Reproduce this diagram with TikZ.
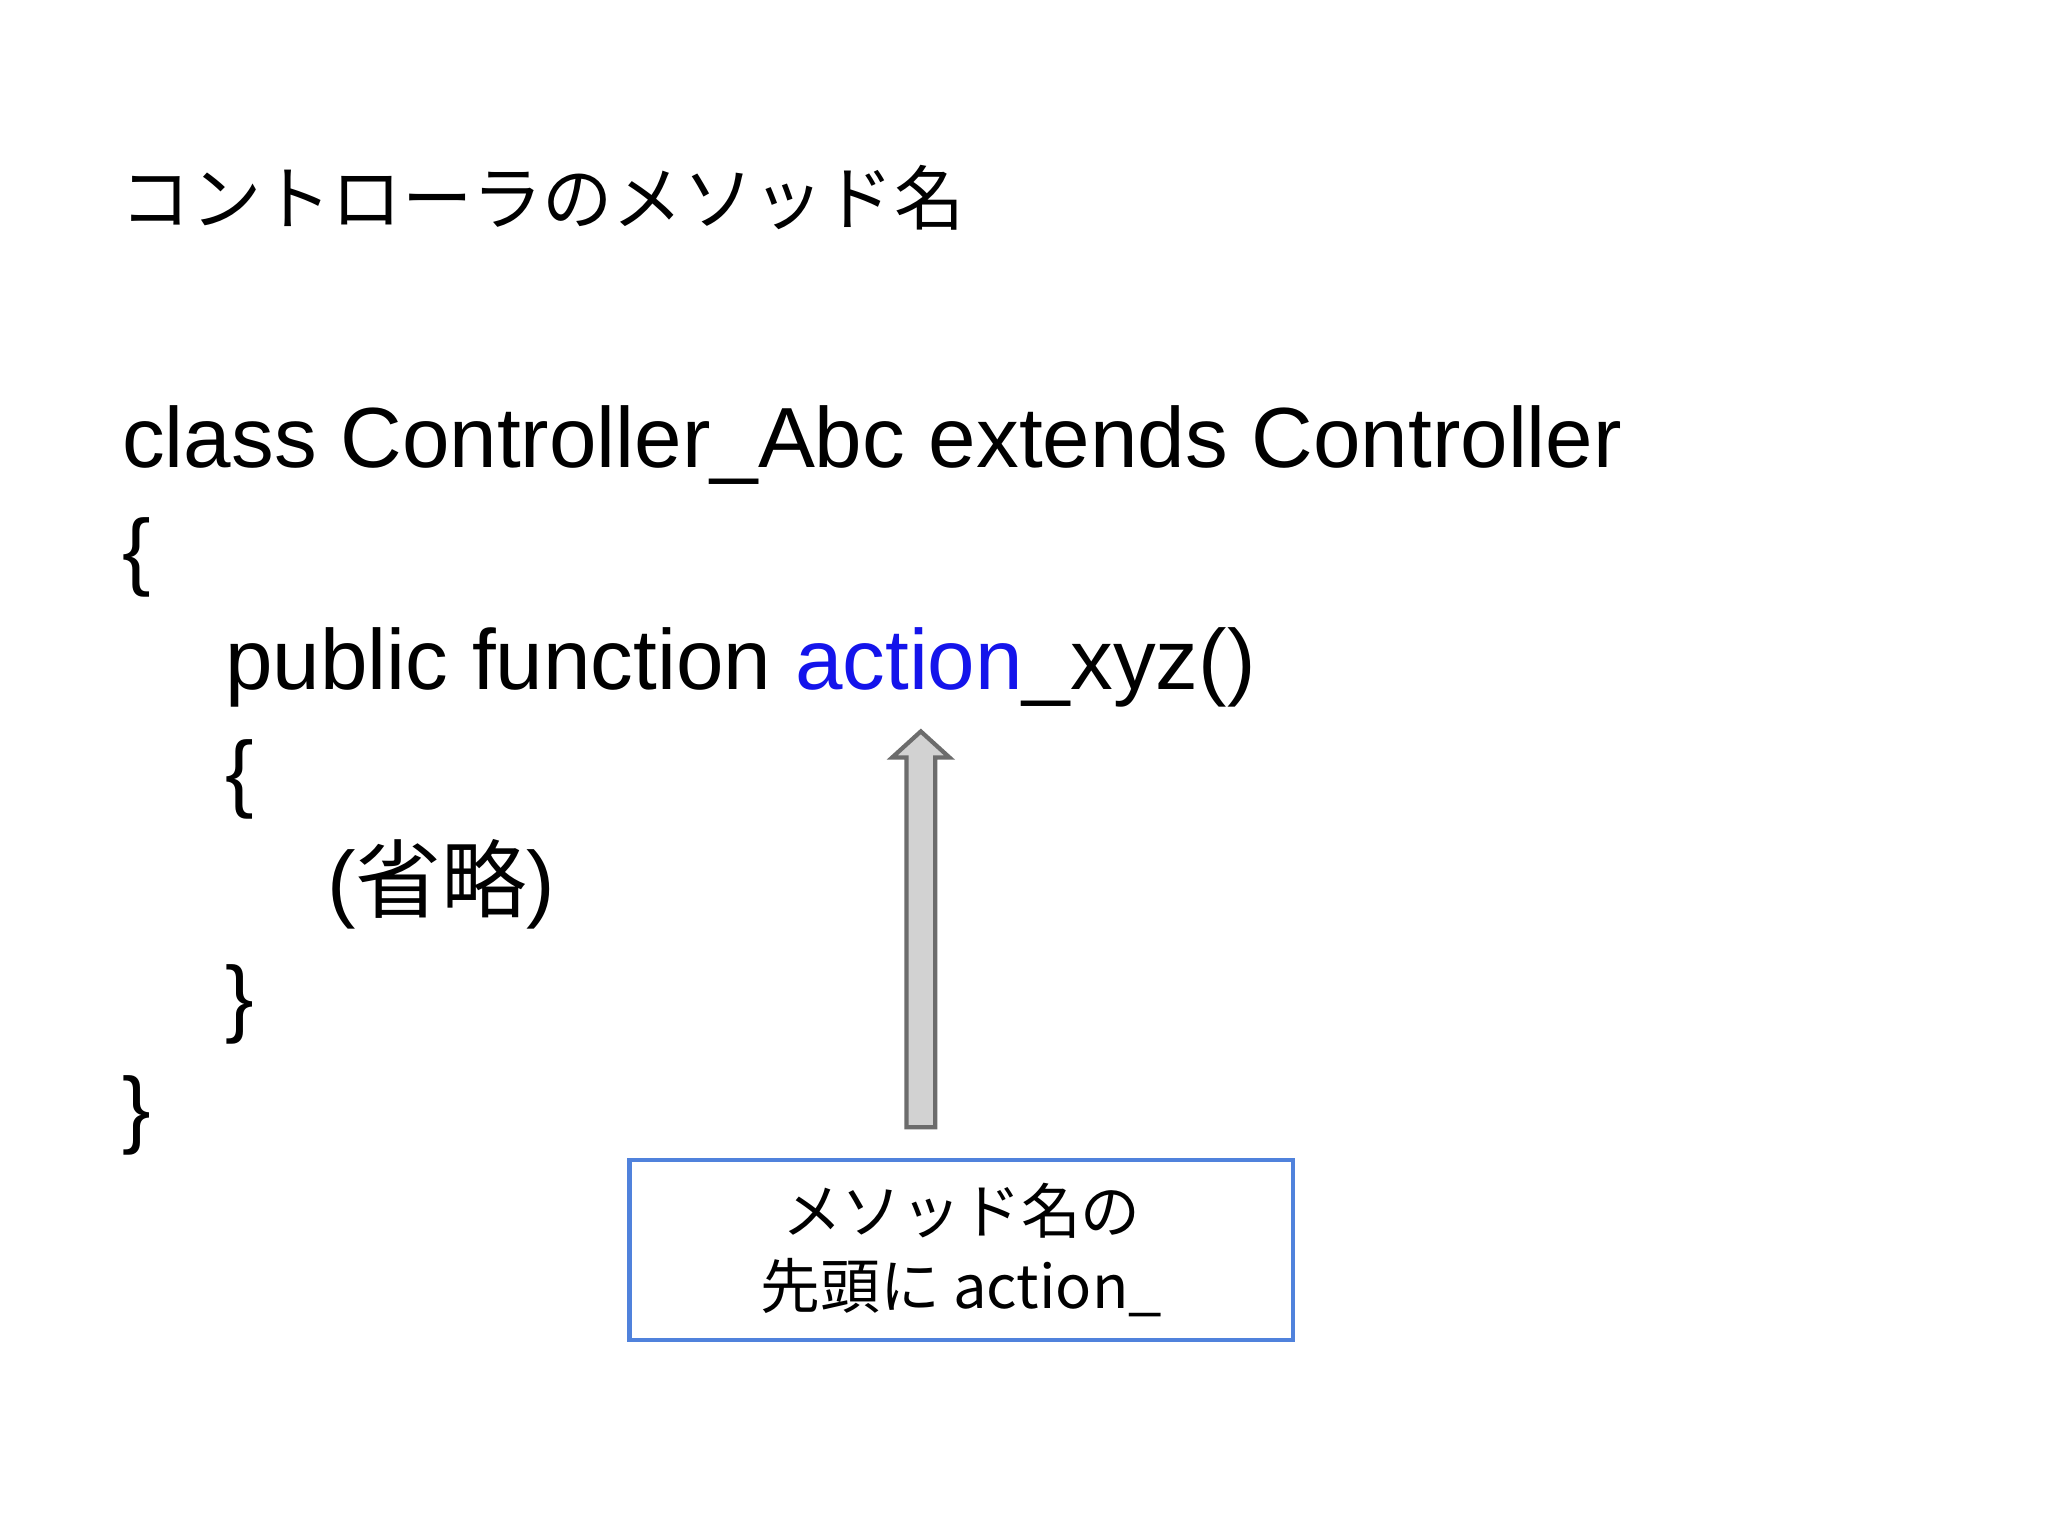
\documentclass[tikz,border=0pt]{standalone}
\usepackage{fontspec}
\setmainfont{Liberation Sans}
\newfontfamily\cjk{Noto Sans CJK JP}
\definecolor{actblue}{RGB}{20,20,235}
\definecolor{boxblue}{RGB}{80,130,220}
\begin{document}
\begin{tikzpicture}[x=0.01306cm,y=-0.01306cm,
  code/.style={anchor=base west,inner sep=0,font=\fontsize{24.3}{30}\selectfont},
  note/.style={align=center,font=\cjk\fontsize{17}{21.5}\selectfont}]
\useasboundingbox[fill=white] (0,0) rectangle (1568,1176);
\node[anchor=base west,inner sep=0,font=\cjk\fontsize{20}{24}\selectfont] (title) at (92,172) {コントローラのメソッド名};
\node[code] (l1) at (93,358) {class Controller\_Abc extends Controller};
\node[code] (l2) at (93,444) {\{};
\node[code] (l3) at (172,528) {public function \textcolor{actblue}{action}\_xyz()};
\node[code] (l4) at (172,614) {\{};
\node[code] (l5) at (250,698) {(\cjk 省略\normalfont )};
\node[code] (l6) at (172,786) {\}};
\node[code] (l7) at (93,871) {\}};
\node[draw=boxblue,line width=1.2pt,minimum width=508*0.01306cm,minimum height=138*0.01306cm,note] (box) at (736,957) {メソッド名の\\先頭に action\_};
\draw[draw=gray!85!black,fill=gray!35,line width=1.2pt] (694,863) -- (694,580) -- (683,580) -- (705,560) -- (727,580) -- (716,580) -- (716,863) -- cycle;
\end{tikzpicture}
\end{document}
